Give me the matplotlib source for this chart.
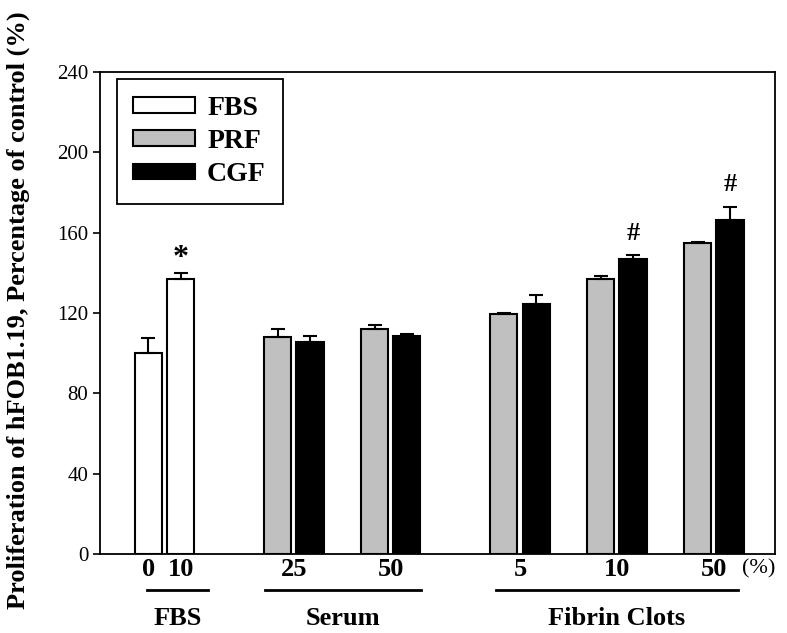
import matplotlib
matplotlib.use("Agg")
import matplotlib.pyplot as plt
from matplotlib.patches import Patch
import matplotlib.transforms as mtransforms

# ---- data ----
fbs_labels = ["0", "10"]
fbs_values = [100, 136.8]
fbs_err = [7.5, 3.0]

conc_labels = ["25", "50", "5", "10", "50"]
prf_values = [107.9, 112.0, 119.4, 136.8, 155.0]
prf_err = [4.0, 2.0, 0.5, 1.8, 0.5]
cgf_values = [105.6, 108.4, 124.3, 146.9, 166.3]
cgf_err = [2.7, 1.0, 4.7, 2.1, 6.7]

group_names = ["FBS", "Serum", "Fibrin Clots"]
yticks = [0, 40, 80, 120, 160, 200, 240]

# ---- layout ----
plt.rcParams['font.family'] = ['Liberation Serif', 'DejaVu Serif']
fig = plt.figure(figsize=(7.87, 6.33), dpi=100)
ax = fig.add_axes([0.127, 0.1248, 0.858, 0.7615])

w = 0.84
fbs_x = [0, 1]
pair_left = [4, 7, 11, 14, 17]
prf_x = pair_left
cgf_x = [p + 1 for p in pair_left]

ekw = dict(elinewidth=1.5, capthick=1.5, ecolor='black')
ax.bar(fbs_x, fbs_values, width=w, color='white', edgecolor='black', linewidth=1.5,
       yerr=[[0]*len(fbs_err), fbs_err], capsize=5, error_kw=ekw, zorder=2)
ax.bar(prf_x, prf_values, width=w, color='#c0c0c0', edgecolor='black', linewidth=1.5,
       yerr=[[0]*len(prf_err), prf_err], capsize=5, error_kw=ekw, zorder=2)
ax.bar(cgf_x, cgf_values, width=w, color='black', edgecolor='black', linewidth=1.5,
       yerr=[[0]*len(cgf_err), cgf_err], capsize=5, error_kw=ekw, zorder=2)

# significance markers
ax.text(fbs_x[1], fbs_values[1] + fbs_err[1], "*", ha='center', va='bottom',
        fontsize=23, fontweight='bold')
for i in [3, 4]:
    ax.text(cgf_x[i], cgf_values[i] + cgf_err[i] + 5, "#", ha='center', va='bottom',
            fontsize=19, fontweight='bold')

ax.set_ylim(0, 240)
ax.set_xlim(-1.5, 19.4)
ax.set_yticks(yticks)
ax.tick_params(axis='y', direction='out', length=5, width=1.2, labelsize=15)
ax.tick_params(axis='x', length=0, pad=3)

tick_pos = fbs_x + [p + 0.5 for p in pair_left]
ax.set_xticks(tick_pos)
ax.set_xticklabels(fbs_labels + conc_labels, fontsize=19, fontweight='bold')
for s in ax.spines.values():
    s.set_linewidth(1.3)

trans = mtransforms.blended_transform_factory(ax.transData, ax.transAxes)
ax.text(18.9, -0.03, "(%)", transform=trans, ha='center', va='center', fontsize=16)

group_spans = [(-0.05, 1.85), (3.6, 8.45), (10.75, 18.25)]
for (a, b), name in zip(group_spans, group_names):
    ax.plot([a, b], [-0.0747, -0.0747], transform=trans, color='black', lw=2,
            clip_on=False)
    ax.text((a + b) / 2, -0.133, name, transform=trans, ha='center', va='center',
            fontsize=19, fontweight='bold')

ax.set_ylabel("Proliferation of hFOB1.19, Percentage of control (%)",
              fontsize=19, fontweight='bold', labelpad=19)
ax.yaxis.set_label_coords(-0.103, 0.505)

handles = [Patch(facecolor='white', edgecolor='black', linewidth=1.5),
           Patch(facecolor='#c0c0c0', edgecolor='black', linewidth=1.5),
           Patch(facecolor='black', edgecolor='black', linewidth=1.5)]
leg = ax.legend(handles, ["FBS", "PRF", "CGF"], loc='upper left',
                bbox_to_anchor=(0.025, 0.9855), borderaxespad=0, fancybox=False,
                edgecolor='black', prop={'weight': 'bold', 'size': 20},
                handlelength=2.2, handleheight=0.5, labelspacing=0.3,
                borderpad=0.6, handletextpad=0.45, framealpha=1)
leg.get_frame().set_linewidth(1.3)

fig.savefig("out.png", dpi=100)
